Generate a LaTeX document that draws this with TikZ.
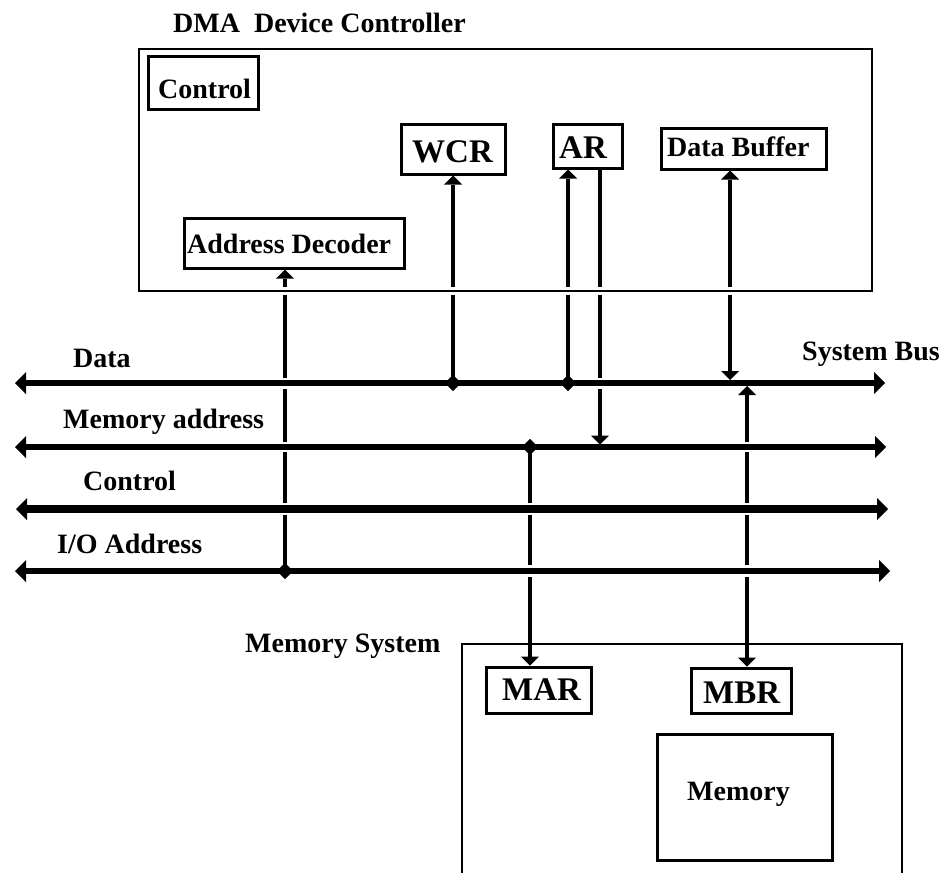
\documentclass[tikz,border=0pt]{standalone}
\usepackage{fontspec}
\setmainfont{Liberation Serif}
\usetikzlibrary{arrows.meta,shapes.geometric}
\newcommand{\mycross}[4]{%
  \draw[white,line width=#4] (#1-4.5,#2) -- (#1+4.5,#2);
  \draw[line width=#3] (#1-5.5,#2) -- (#1+5.5,#2);}
\tikzset{
  frame/.style={draw, line width=2.8pt, inner sep=0pt, rectangle},
  reg/.style={draw, line width=3pt, inner sep=0pt, rectangle},
  lbl/.style={anchor=base west, inner sep=0pt, font=\fontsize{28}{30}\selectfont\bfseries},
  biglbl/.style={anchor=base west, inner sep=0pt, font=\fontsize{33}{35}\selectfont\bfseries},
  conn/.style={line width=4pt},
  up/.style={conn, arrows={-Triangle[length=9pt,width=18pt,line width=0pt]}},
  both/.style={conn, arrows={Triangle[length=9pt,width=18pt,line width=0pt]-Triangle[length=9pt,width=18pt,line width=0pt]}},
  bus/.style={line width=#1, arrows={Triangle[length=11pt,width=22pt,line width=0pt]-Triangle[length=11pt,width=22pt,line width=0pt]}},
  jdot/.style={rectangle, rotate=45, fill, draw, line width=1pt, inner sep=0pt, minimum size=10.5pt},
}
\begin{document}
\begin{tikzpicture}[x=1pt,y=-1pt]
\useasboundingbox (0,0) rectangle (946,873);

% DMA controller
\node[lbl] (title) at (173,32) {DMA\ \ Device Controller};
\node[frame, minimum width=733pt, minimum height=242pt] (dma) at (505.5,170) {};
\node[reg, minimum width=110pt, minimum height=53pt] (ctl) at (203,82.5) {};
\node[lbl] (ctlt) at (158,98) {Control};
\node[reg, minimum width=104pt, minimum height=50pt] (wcr) at (453,149) {};
\node[biglbl] (wcrt) at (412,162) {WCR};
\node[reg, minimum width=220pt, minimum height=50pt] (addec) at (294,243) {};
\node[lbl] (addect) at (187,253) {Address Decoder};
\node[reg, minimum width=69pt, minimum height=44pt] (ar) at (587.5,146) {};
\node[biglbl] (art) at (559,158) {AR};
\node[reg, minimum width=165pt, minimum height=41pt] (dbuf) at (743.5,148.5) {};
\node[lbl] (dbuft) at (667,156) {Data Buffer};

% Memory system
\node[lbl] (mst) at (245,652) {Memory System};
\draw[line width=2.8pt] (462,885) -- (462,644) -- (902,644) -- (902,885);
\node[reg, minimum width=105pt, minimum height=46pt] (mar) at (538.5,690) {};
\node[biglbl] (mart) at (502,700) {MAR};
\node[reg, minimum width=100pt, minimum height=45pt] (mbr) at (741,690.5) {};
\node[biglbl] (mbrt) at (703,703) {MBR};
\node[reg, minimum width=175pt, minimum height=126pt] (mem) at (744.5,797) {};
\node[lbl] (memt) at (687,800) {Memory};

% bus labels
\node[lbl] (sbt) at (802,360) {System Bus};
\node[lbl] (datat) at (73,367) {Data};
\node[lbl] (madt) at (63,428) {Memory address};
\node[lbl] (ctrlt) at (83,490) {Control};
\node[lbl] (iot) at (57,553) {I/O Address};

% bus end points
\coordinate (dL) at (15,383);  \coordinate (dR) at (885,383);
\coordinate (mL) at (15,447);  \coordinate (mR) at (886,447);
\coordinate (cL) at (16,509);  \coordinate (cR) at (888,509);
\coordinate (iL) at (15,571);  \coordinate (iR) at (890,571);

% junctions and connector ends
\coordinate (jIO) at (285,571);
\coordinate (jW) at (453,383);
\coordinate (jA) at (568,383);
\coordinate (arD) at (600,444.5);
\coordinate (dbD) at (730,380);
\coordinate (mbU) at (747,386);
\coordinate (jM) at (530,447);

% vertical connectors
\draw[up] (jIO) -- (addec.south -| jIO);
\draw[up] (jW) -- (wcr.south -| jW);
\draw[up] (jA) -- (ar.south -| jA);
\draw[up] (ar.south -| arD) -- (arD);
\draw[both] (dbuf.south -| dbD) -- (dbD);
\draw[both] (mbr.north -| mbU) -- (mbU);
\draw[up] (jM) -- (mar.north -| jM);

% buses
\draw[bus=6pt] (dL) -- (dR);
\draw[bus=5.5pt] (mL) -- (mR);
\draw[bus=7.5pt] (cL) -- (cR);
\draw[bus=6.5pt] (iL) -- (iR);

% crossings (line hops)
\mycross{285}{291}{2.8pt}{8.5pt}
\mycross{453}{291}{2.8pt}{8.5pt}
\mycross{568}{291}{2.8pt}{8.5pt}
\mycross{600}{291}{2.8pt}{8.5pt}
\mycross{730}{291}{2.8pt}{8.5pt}
\mycross{285}{383}{6pt}{11pt}
\mycross{285}{447}{5.5pt}{10.5pt}
\mycross{285}{509}{7.5pt}{12pt}
\mycross{600}{383}{6pt}{11pt}
\mycross{747}{447}{5.5pt}{10.5pt}
\mycross{747}{509}{7.5pt}{12pt}
\mycross{747}{571}{6.5pt}{11.5pt}
\mycross{530}{509}{7.5pt}{12pt}
\mycross{530}{571}{6.5pt}{11.5pt}

% junction dots
\node[jdot] (dIO) at (jIO) {};
\node[jdot] (dW) at (jW) {};
\node[jdot] (dA) at (jA) {};
\node[jdot] (dM) at (jM) {};
\end{tikzpicture}
\end{document}
